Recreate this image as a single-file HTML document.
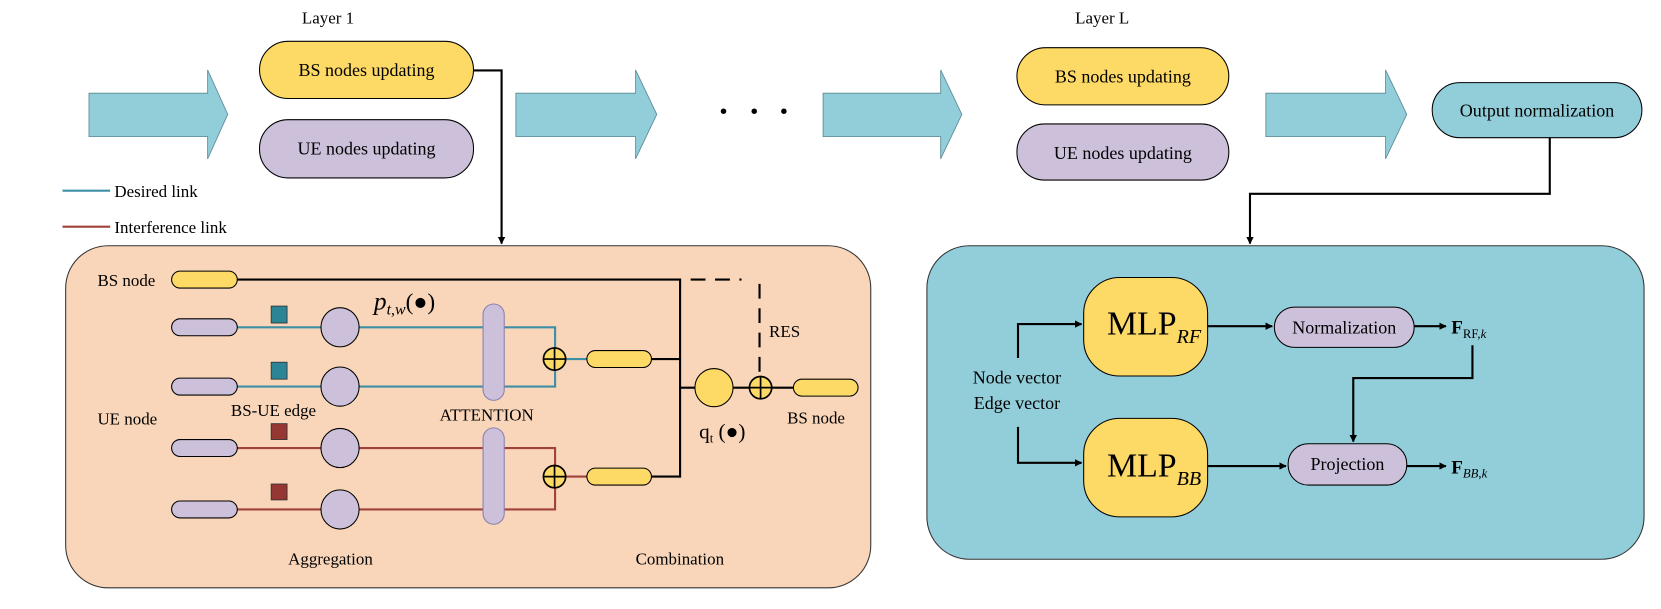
<!DOCTYPE html>
<html><head><meta charset="utf-8"><style>
html,body{margin:0;padding:0;background:#fff;width:1661px;height:609px;overflow:hidden}
svg{display:block}
text{font-family:"Liberation Serif",serif;fill:#000}
</style></head><body>
<svg width="1661" height="609" viewBox="0 0 1568 575" preserveAspectRatio="none" xmlns="http://www.w3.org/2000/svg">
<defs>
<marker id="ah" viewBox="0 0 10 10" refX="9" refY="5" markerWidth="7" markerHeight="7" orient="auto-start-reverse" markerUnits="userSpaceOnUse">
<path d="M0,0 L10,5 L0,10 Z" fill="#000"/></marker>
<g id="oplus"><circle r="10.5" fill="#FDD966" stroke="#000" stroke-width="1.6"/><line x1="-10.5" y1="0" x2="10.5" y2="0" stroke="#000" stroke-width="1.6"/><line x1="0" y1="-10.5" x2="0" y2="10.5" stroke="#000" stroke-width="1.6"/></g>
</defs>

<!-- big block arrows -->
<g fill="#92CDDA" stroke="#5a8a94" stroke-width="0.8">
<path d="M84,88 H196 V66 L215,108 L196,150 V129 H84 Z"/>
<path d="M487,88 H600 V66 L620,108 L600,150 V129 H487 Z"/>
<path d="M777,88 H888 V66 L908,108 L888,150 V129 H777 Z"/>
<path d="M1195,88 H1308 V66 L1328,108 L1308,150 V129 H1195 Z"/>
</g>
<circle cx="683" cy="105" r="2.6" fill="#000"/><circle cx="712" cy="105" r="2.6" fill="#000"/><circle cx="740" cy="105" r="2.6" fill="#000"/>

<text x="285" y="22" font-size="16">Layer 1</text>
<text x="1015" y="22" font-size="16">Layer L</text>

<rect x="245" y="39" width="202" height="54" rx="27" fill="#FDD966" stroke="#000" stroke-width="1"/>
<text x="346" y="72" font-size="17" text-anchor="middle">BS nodes updating</text>
<rect x="245" y="113" width="202" height="55" rx="27" fill="#CCC0DA" stroke="#000" stroke-width="1"/>
<text x="346" y="146" font-size="17" text-anchor="middle">UE nodes updating</text>

<rect x="960" y="45" width="200" height="54" rx="27" fill="#FDD966" stroke="#000" stroke-width="1"/>
<text x="1060" y="78" font-size="17" text-anchor="middle">BS nodes updating</text>
<rect x="960" y="117" width="200" height="53" rx="26" fill="#CCC0DA" stroke="#000" stroke-width="1"/>
<text x="1060" y="150" font-size="17" text-anchor="middle">UE nodes updating</text>

<rect x="1352" y="78" width="198" height="52" rx="26" fill="#92CDDA" stroke="#000" stroke-width="1"/>
<text x="1451" y="110" font-size="17" text-anchor="middle">Output normalization</text>

<!-- legend -->
<line x1="59" y1="180" x2="104" y2="180" stroke="#3E8FA5" stroke-width="2"/>
<text x="108" y="186" font-size="16">Desired link</text>
<line x1="59" y1="214" x2="104" y2="214" stroke="#A0413A" stroke-width="2"/>
<text x="108" y="220" font-size="16">Interference link</text>

<!-- connectors top -->
<polyline points="447,66.5 473.5,66.5 473.5,230" fill="none" stroke="#000" stroke-width="2" marker-end="url(#ah)"/>
<polyline points="1463,130 1463,183 1180,183 1180,230" fill="none" stroke="#000" stroke-width="2" marker-end="url(#ah)"/>

<!-- left box -->
<rect x="62" y="232" width="760" height="323" rx="40" fill="#F9D6B9" stroke="#333" stroke-width="1"/>

<!-- black BS lines -->
<g stroke="#000" stroke-width="2" fill="none">
<line x1="224" y1="264" x2="643" y2="264"/>
<line x1="642" y1="264" x2="642" y2="451"/>
<line x1="615" y1="339" x2="642" y2="339"/>
<line x1="615" y1="450" x2="642" y2="450"/>
<line x1="642" y1="366" x2="760" y2="366"/>
<line x1="652" y1="264" x2="700" y2="264" stroke-dasharray="14,9"/>
<line x1="717" y1="268" x2="717" y2="356" stroke-dasharray="14,9"/>
</g>

<!-- blue lines -->
<g stroke="#3E8FA5" stroke-width="2" fill="none">
<polyline points="224,309 524,309 524,365 224,365"/>
<line x1="534" y1="339" x2="555" y2="339"/>
</g>
<g stroke="#A0413A" stroke-width="2" fill="none">
<polyline points="224,423 524,423 524,481 224,481"/>
<line x1="534" y1="450" x2="555" y2="450"/>
</g>

<g fill="#CCC0DA" stroke="#000" stroke-width="1">
<rect x="162" y="256" width="62" height="16" rx="8" fill="#FDD966"/>
<rect x="162" y="301" width="62" height="16" rx="8"/>
<rect x="162" y="357" width="62" height="16" rx="8"/>
<rect x="162" y="415" width="62" height="16" rx="8"/>
<rect x="162" y="473" width="62" height="16" rx="8"/>
<ellipse cx="321" cy="309" rx="18" ry="18.5"/>
<ellipse cx="321" cy="365" rx="18" ry="18.5"/>
<ellipse cx="321" cy="423" rx="18" ry="18.5"/>
<ellipse cx="321" cy="481" rx="18" ry="18.5"/>
<rect x="456" y="287" width="20" height="91" rx="10" stroke="#8a7fb0"/>
<rect x="456" y="404" width="20" height="91" rx="10" stroke="#8a7fb0"/>
<rect x="554" y="331" width="61" height="16" rx="8" fill="#FDD966"/>
<rect x="554" y="442" width="61" height="16" rx="8" fill="#FDD966"/>
<rect x="749" y="358" width="61" height="16" rx="8" fill="#FDD966"/>
<ellipse cx="674" cy="366" rx="18" ry="18" fill="#FDD966"/>
</g>
<g stroke="#333" stroke-width="0.8">
<rect x="256" y="289" width="15" height="16" fill="#2C8597"/>
<rect x="256" y="342" width="15" height="16" fill="#2C8597"/>
<rect x="256" y="400" width="15" height="15" fill="#953733"/>
<rect x="256" y="457" width="15" height="15" fill="#953733"/>
</g>
<use href="#oplus" x="523.5" y="339"/>
<use href="#oplus" x="523.5" y="450"/>
<use href="#oplus" x="718" y="366"/>

<text x="92" y="270" font-size="16">BS node</text>
<text x="92" y="401" font-size="16">UE node</text>
<text x="218" y="393" font-size="16">BS-UE edge</text>
<text x="415" y="397" font-size="16">ATTENTION</text>
<text x="726" y="318" font-size="16">RES</text>
<text x="743" y="400" font-size="16">BS node</text>
<text x="272" y="533" font-size="16">Aggregation</text>
<text x="600" y="533" font-size="16">Combination</text>
<text x="353" y="292" font-size="24" font-style="italic">p<tspan font-size="15" dy="5">t,w</tspan><tspan font-style="normal" font-size="22" dy="-5">(●)</tspan></text>
<text x="660" y="414" font-size="20">q<tspan font-size="12" dy="4">t</tspan><tspan dy="-4"> (●)</tspan></text>

<!-- right box -->
<rect x="875" y="232" width="677" height="296" rx="40" fill="#92CDDA" stroke="#333" stroke-width="1"/>
<rect x="1023" y="262" width="117" height="93" rx="34" fill="#FDD966" stroke="#000" stroke-width="1"/>
<rect x="1023" y="395" width="117" height="93" rx="34" fill="#FDD966" stroke="#000" stroke-width="1"/>
<text x="1045" y="316" font-size="32">MLP<tspan font-size="19" font-style="italic" dy="8">RF</tspan></text>
<text x="1045" y="450" font-size="32">MLP<tspan font-size="19" font-style="italic" dy="8">BB</tspan></text>
<text x="960" y="362" font-size="17" text-anchor="middle">Node vector</text>
<text x="960" y="386" font-size="17" text-anchor="middle">Edge vector</text>
<rect x="1203" y="290" width="132" height="38" rx="19" fill="#CCC0DA" stroke="#000" stroke-width="1"/>
<text x="1269" y="315" font-size="17" text-anchor="middle">Normalization</text>
<rect x="1216" y="419" width="112" height="39" rx="19" fill="#CCC0DA" stroke="#000" stroke-width="1"/>
<text x="1272" y="444" font-size="17" text-anchor="middle">Projection</text>
<g stroke="#000" stroke-width="2" fill="none">
<polyline points="961,338 961,306 1021,306" marker-end="url(#ah)"/>
<polyline points="961,403 961,437 1021,437" marker-end="url(#ah)"/>
<line x1="1140" y1="308" x2="1201" y2="308" marker-end="url(#ah)"/>
<line x1="1140" y1="440" x2="1214" y2="440" marker-end="url(#ah)"/>
<line x1="1335" y1="308" x2="1365" y2="308" marker-end="url(#ah)"/>
<line x1="1328" y1="440" x2="1365" y2="440" marker-end="url(#ah)"/>
<polyline points="1390,326 1390,357 1277.5,357 1277.5,417" marker-end="url(#ah)"/>
</g>
<text x="1370" y="315" font-size="18" font-weight="bold">F<tspan font-size="12" font-weight="normal" dy="4">RF,<tspan font-style="italic">k</tspan></tspan></text>
<text x="1370" y="447" font-size="18" font-weight="bold">F<tspan font-size="12" font-weight="normal" font-style="italic" dy="4">BB,k</tspan></text>
</svg>
</body></html>
